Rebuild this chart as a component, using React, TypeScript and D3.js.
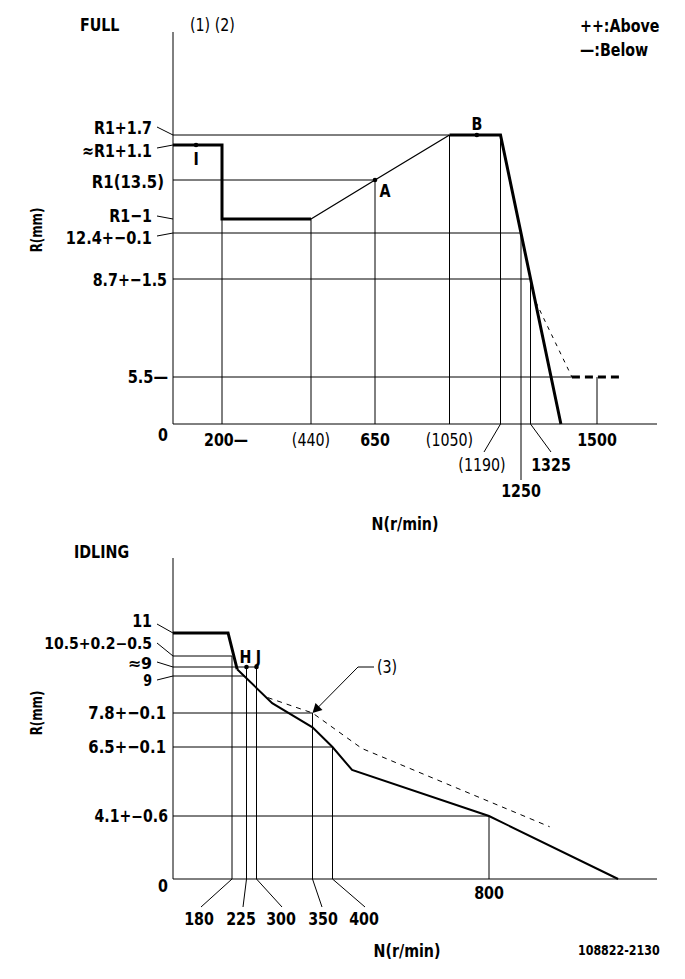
import * as d3 from "d3";
import type { ReactNode } from "react";

// FULL chart: axis breakpoints (r/min, mm)
const fullN = [0, 200, 440, 650, 1050, 1190, 1250, 1325, 1500];
const fullR = [0, 5.5, 8.7, 12.4, 12.5, 13.5, 14.6, 15.2];
const fullThickA: [number, number][] = [[0, 14.6], [200, 14.6], [200, 12.5], [440, 12.5]];
const fullThin: [number, number][] = [[440, 12.5], [650, 13.5], [1050, 15.2]];
const fullThickB: [number, number][] = [[1050, 15.2], [1190, 15.2], [1405, 0]];
const fullDash: [number, number][] = [[1339, 7.95], [1434, 5.5]];
const fullDashThick: [number, number][] = [[1434, 5.5], [1561, 5.5]];
const fullPoints = [
  { n: 94, r: 14.6, label: "I" },
  { n: 650, r: 13.5, label: "A" },
  { n: 1125, r: 15.2, label: "B" },
];
// horizontal guides: [value, end n]
const fullHGrid: [number, number][] = [[15.2, 1050], [13.5, 650], [12.4, 1250], [8.7, 1325], [5.5, 1434]];
// vertical guides: [n, top value]
const fullVGrid: [number, number][] = [[200, 12.5], [440, 12.5], [650, 13.5], [1050, 15.2], [1190, 15.2], [1250, 12.4], [1325, 8.7], [1500, 5.5]];
const fullRLabels = ["R1+1.7", "≈R1+1.1", "R1(13.5)", "R1−1", "12.4+−0.1", "8.7+−1.5", "5.5—"];
const fullRLabelVals = [15.2, 14.6, 13.5, 12.5, 12.4, 8.7, 5.5];

// IDLING chart
const idleN = [0, 180, 225, 300, 350, 400, 800];
const idleR = [0, 4.1, 6.5, 7.8, 9, 9.2, 10.5, 11];
const idleThick: [number, number][] = [[0, 11], [168, 11], [196, 9.15]];
const idleCurve: [number, number][] = [[196, 9.15], [314, 8.12], [350, 7.25], [400, 6.5], [450, 5.7], [800, 4.1], [1130, 0]];
const idleDash: [number, number][] = [[310, 8.3], [350, 7.8], [475, 6.45], [955, 3.4]];
const idlePoints = [
  { n: 225, r: 9.2, label: "H" },
  { n: 300, r: 9.2, label: "J" },
];
const idleHGrid: [number, number][] = [[10.5, 180], [9.2, 300], [9, 220], [7.8, 350], [6.5, 400], [4.1, 800]];
const idleVGrid: [number, number][] = [[180, 10.5], [225, 9.2], [300, 9.2], [350, 7.8], [400, 6.5], [800, 4.1]];
const idleRLabels = ["11", "10.5+0.2−0.5", "≈9", "9", "7.8+−0.1", "6.5+−0.1", "4.1+−0.6"];
const idleRLabelVals = [11, 10.5, 9.2, 9, 7.8, 6.5, 4.1];
const idleNLabels = ["180", "225", "300", "350", "400"];

const FONT = "'DejaVu Sans Condensed', 'Liberation Sans Narrow', 'DejaVu Sans', sans-serif";

type TProps = {
  x: number;
  y: number;
  a?: "start" | "middle" | "end";
  s?: number;
  w?: number;
  sx?: number;
  rot?: number;
  children: ReactNode;
};

// narrow, tall label text like the drawing's gothic font
function T({ x, y, a = "start", s = 18, w = 700, sx = 0.88, rot, children }: TProps) {
  return (
    <text
      transform={`translate(${x},${y})${rot ? ` rotate(${rot})` : ""} scale(${sx},1)`}
      textAnchor={a}
      fontSize={s}
      fontWeight={w}
      fontFamily={FONT}
      dominantBaseline="central"
      fill="#000"
    >
      {children}
    </text>
  );
}

export default function App() {
  const W = 685;
  const H = 979;

  const xF = d3.scaleLinear().domain(fullN).range([173, 222, 311, 375, 449.5, 500.5, 521, 530.5, 597]);
  const yF = d3.scaleLinear().domain(fullR).range([424, 377, 279, 233, 219, 180, 145, 135]);
  const xI = d3.scaleLinear().domain(idleN).range([173, 232, 246.5, 256.5, 312.5, 332.5, 489]);
  const yI = d3.scaleLinear().domain(idleR).range([879, 816, 747, 713, 676, 667, 656, 633]);

  const lineF = d3.line<[number, number]>().x((d) => xF(d[0])).y((d) => yF(d[1]));
  const lineI = d3.line<[number, number]>().x((d) => xI(d[0])).y((d) => yI(d[1]));

  // label layout: [text end x, label centre y, leader start y or null, font size, x scale]
  const fullLabelLayout: [number, number, number | null, number, number][] = [
    [152, 128, 127, 18, 0.88], [152, 151, 148, 18, 0.88], [164, 182, null, 18, 0.92], [152, 216, 216, 18, 0.88],
    [152, 238, 236, 18, 0.9], [167, 280, null, 18, 0.88], [168, 377, null, 18, 0.9],
  ];
  const idleLabelLayout: [number, number, number | null, number, number][] = [
    [152, 621, 624, 18, 0.88], [152, 644, 643, 15, 1.04], [152, 663, 662, 16, 1.1], [152, 681, 680, 16, 0.88],
    [166, 713, null, 18, 0.92], [166, 747, null, 18, 0.92], [168, 816, null, 17, 0.92],
  ];
  const idleNLabelX = [199, 241, 281, 323, 364];
  const idleLeaderX = [201, 243, 282, 322, 365];

  return (
    <svg width={W} height={H} viewBox={`0 0 ${W} ${H}`} style={{ display: "block", background: "#fff" }}>
      <style>{"body{margin:0}"}</style>
      <g stroke="#000" fill="none">
        {/* FULL axes */}
        <line x1={173} y1={32} x2={173} y2={yF(0)} strokeWidth={1} />
        <line x1={173} y1={yF(0)} x2={657} y2={yF(0)} strokeWidth={1} />
        {fullHGrid.map(([v, e], i) => (
          <line key={`fh${i}`} x1={xF(0)} x2={xF(e)} y1={yF(v)} y2={yF(v)} strokeWidth={1} />
        ))}
        {fullVGrid.map(([n, t], i) => (
          <line key={`fv${i}`} x1={xF(n)} x2={xF(n)} y1={n === 1250 ? 480 : yF(0)} y2={yF(t)} strokeWidth={1} />
        ))}
        <path d={lineF(fullThickA) ?? ""} strokeWidth={3} />
        <path d={lineF(fullThin) ?? ""} strokeWidth={1.3} />
        <path d={lineF(fullThickB) ?? ""} strokeWidth={3} />
        <path d={lineF(fullDash) ?? ""} strokeWidth={1} strokeDasharray="4,5" />
        <path d={lineF(fullDashThick) ?? ""} strokeWidth={3} strokeDasharray="8,5" />
        {fullRLabelVals.map((v, i) => {
          const ly = fullLabelLayout[i][2];
          return ly === null ? null : <line key={`fl${i}`} x1={157} y1={ly} x2={173} y2={yF(v)} strokeWidth={1} />;
        })}
        <line x1={xF(1190)} y1={yF(0)} x2={484} y2={452} strokeWidth={1} />
        <line x1={xF(1325)} y1={yF(0)} x2={551} y2={452} strokeWidth={1} />

        {/* IDLING axes */}
        <line x1={173} y1={558} x2={173} y2={yI(0)} strokeWidth={1} />
        <line x1={173} y1={yI(0)} x2={657} y2={yI(0)} strokeWidth={1} />
        {idleHGrid.map(([v, e], i) => (
          <line key={`ih${i}`} x1={xI(0)} x2={xI(e)} y1={yI(v)} y2={yI(v)} strokeWidth={1} />
        ))}
        {idleVGrid.map(([n, t], i) => (
          <line key={`iv${i}`} x1={xI(n)} x2={xI(n)} y1={yI(0)} y2={yI(t)} strokeWidth={1} />
        ))}
        <path d={lineI(idleThick) ?? ""} strokeWidth={3} />
        <path d={lineI(idleCurve) ?? ""} strokeWidth={2} />
        <path d={lineI(idleDash) ?? ""} strokeWidth={1} strokeDasharray="5,5" />
        {idleRLabelVals.map((v, i) => {
          const ly = idleLabelLayout[i][2];
          return ly === null ? null : <line key={`il${i}`} x1={157} y1={ly} x2={173} y2={yI(v)} strokeWidth={1} />;
        })}
        {idleN.slice(1, 6).map((n, i) => (
          <line key={`inl${i}`} x1={xI(n)} y1={yI(0)} x2={idleLeaderX[i]} y2={907} strokeWidth={1} />
        ))}
        {/* (3) callout */}
        <polyline points={`${xI(350) + 2},${yI(7.8) - 2} 358,667 374,667`} strokeWidth={1} />
      </g>
      <polygon
        points={`${xI(350)},${yI(7.8)} ${xI(350) + 3},${yI(7.8) - 10} ${xI(350) + 10},${yI(7.8) - 3}`}
        fill="#000"
      />

      {fullPoints.map((p) => (
        <circle key={p.label} cx={xF(p.n)} cy={yF(p.r)} r={2.3} fill="#000" />
      ))}
      {idlePoints.map((p) => (
        <circle key={p.label} cx={xI(p.n)} cy={yI(p.r)} r={2.3} fill="#000" />
      ))}

      {/* FULL texts */}
      <T x={80} y={25}>FULL</T>
      <T x={190} y={25} w={400}>(1) (2)</T>
      <T x={580} y={26}>++:Above</T>
      <T x={580} y={50}>—:Below</T>
      <T x={xF(94)} y={159} a="middle">{fullPoints[0].label}</T>
      <T x={385} y={191} a="middle">{fullPoints[1].label}</T>
      <T x={xF(1125)} y={124} a="middle">{fullPoints[2].label}</T>
      {fullRLabels.map((t, i) => (
        <T key={`frl${i}`} x={fullLabelLayout[i][0]} y={fullLabelLayout[i][1]} a="end" s={fullLabelLayout[i][3]} sx={fullLabelLayout[i][4]}>
          {t}
        </T>
      ))}
      <T x={163} y={435} a="middle">0</T>
      <T x={204} y={440}>200—</T>
      <T x={xF(440)} y={440} a="middle" w={400}>(440)</T>
      <T x={xF(650)} y={440} a="middle">650</T>
      <T x={xF(1050)} y={440} a="middle" w={400}>(1050)</T>
      <T x={xF(1500)} y={440} a="middle">1500</T>
      <T x={482} y={465} a="middle" w={400}>(1190)</T>
      <T x={551} y={465} a="middle">1325</T>
      <T x={xF(1250)} y={491} a="middle">1250</T>
      <T x={405} y={524} a="middle">N(r/min)</T>
      <T x={37} y={230} a="middle" s={15} rot={-90}>R(mm)</T>

      {/* IDLING texts */}
      <T x={74} y={552}>IDLING</T>
      {idleRLabels.map((t, i) => (
        <T key={`irl${i}`} x={idleLabelLayout[i][0]} y={idleLabelLayout[i][1]} a="end" s={idleLabelLayout[i][3]} sx={idleLabelLayout[i][4]}>
          {t}
        </T>
      ))}
      <T x={xI(225) - 1} y={657} a="middle">{idlePoints[0].label}</T>
      <T x={xI(300) + 2} y={657} a="middle">{idlePoints[1].label}</T>
      <T x={387} y={667} a="middle" w={400}>(3)</T>
      <T x={163} y={886} a="middle">0</T>
      {idleNLabels.map((t, i) => (
        <T key={`inx${i}`} x={idleNLabelX[i]} y={919} a="middle">{t}</T>
      ))}
      <T x={xI(800)} y={893} a="middle">800</T>
      <T x={407} y={951} a="middle">N(r/min)</T>
      <T x={37} y={713} a="middle" s={15} rot={-90}>R(mm)</T>
      <T x={578} y={950} s={14}>108822-2130</T>
    </svg>
  );
}
